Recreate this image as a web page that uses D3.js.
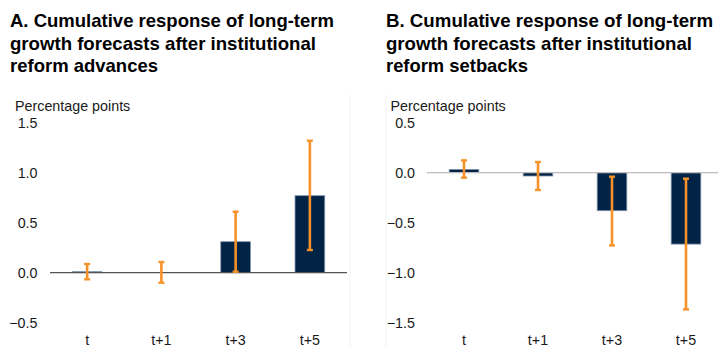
<!DOCTYPE html>
<html>
<head>
<meta charset="utf-8">
<script src="https://cdn.jsdelivr.net/npm/d3@7"></script>
<style>
  html, body { margin: 0; padding: 0; background: #fff; }
  svg { display: block; }
  .title { font-family: "Liberation Sans Narrow", "Arial Narrow", "Liberation Sans", sans-serif; font-weight: bold; font-size: 18.5px; fill: #000; }
  .lbl { font-family: "Liberation Sans", Arial, sans-serif; font-size: 14.3px; fill: #1a1a1a; }
</style>
</head>
<body>
<svg id="chart" width="718" height="347"></svg>
<script>
// Horizons after the reform event
const horizons = ["t", "t+1", "t+3", "t+5"];

// Panel A: reform advances — point estimate and confidence band
const advancesValue = [0.01, 0.0, 0.31, 0.77];
const advancesLow   = [-0.066, -0.10, 0.01, 0.227];
const advancesHigh  = [0.087, 0.107, 0.61, 1.32];

// Panel B: reform setbacks
const setbacksValue = [0.033, -0.033, -0.38, -0.714];
const setbacksLow   = [-0.05, -0.173, -0.727, -1.367];
const setbacksHigh  = [0.123, 0.107, -0.04, -0.06];

const ticksA = [1.5, 1.0, 0.5, 0.0, -0.5];
const ticksB = [0.5, 0.0, -0.5, -1.0, -1.5];

const titleA = ["A. Cumulative response of long-term", "growth forecasts after institutional", "reform advances"];
const titleB = ["B. Cumulative response of long-term", "growth forecasts after institutional", "reform setbacks"];
const unitLabel = "Percentage points";

const svg = d3.select("#chart");

function panel(cfg) {
  const g = svg.append("g");

  // faint panel frame edge
  g.append("line")
    .attr("x1", cfg.edgeX).attr("x2", cfg.edgeX)
    .attr("y1", 95).attr("y2", 347)
    .attr("stroke", "#f2f2f2").attr("stroke-width", 1);

  // title lines
  cfg.title.forEach((t, i) => {
    g.append("text").attr("class", "title")
      .attr("x", cfg.titleX).attr("y", 27.3 + i * 22.2)
      .attr("textLength", cfg.titleW[i])
      .attr("lengthAdjust", "spacingAndGlyphs")
      .text(t);
  });

  g.append("text").attr("class", "lbl")
    .attr("x", cfg.unitX).attr("y", 110.5)
    .text(unitLabel);

  const x = d3.scaleBand().domain(horizons).range(cfg.xRange).paddingInner(0.6).paddingOuter(0.3);
  const y = d3.scaleLinear().domain(cfg.yDomain).range([122.7, 322.7]);

  // y tick labels
  const yAxis = d3.axisLeft(y).tickValues(cfg.ticks).tickFormat(d3.format(".1f")).tickSize(0).tickPadding(0);
  const ya = g.append("g").attr("transform", `translate(${cfg.tickRight},0)`).call(yAxis);
  ya.select(".domain").remove();
  ya.selectAll("text").attr("class", "lbl").attr("font-size", null).attr("font-family", null).attr("fill", null).attr("dy", "0.35em");

  // x category labels
  const xAxis = d3.axisBottom(x).tickSize(0).tickPadding(0);
  const xa = g.append("g").attr("transform", "translate(0,345)").call(xAxis);
  xa.select(".domain").remove();
  xa.selectAll("text").attr("class", "lbl").attr("font-size", null).attr("font-family", null).attr("fill", null).attr("y", 0).attr("dy", null);

  const rows = horizons.map((h, i) => ({ h, v: cfg.value[i], lo: cfg.low[i], hi: cfg.high[i] }));

  // bars
  g.selectAll("rect.bar").data(rows).join("rect")
    .attr("class", "bar")
    .attr("x", d => x(d.h))
    .attr("width", x.bandwidth())
    .attr("y", d => y(Math.max(0, d.v)))
    .attr("height", d => Math.abs(y(d.v) - y(0)))
    .attr("fill", "#002346")
    .attr("stroke", "#7f93ab").attr("stroke-width", 0.8);

  // zero line
  g.append("line")
    .attr("x1", cfg.zeroX[0]).attr("x2", cfg.zeroX[1])
    .attr("y1", y(0)).attr("y2", y(0))
    .attr("stroke", cfg.zeroColor).attr("stroke-width", 1.2);

  // error bars
  const eb = g.selectAll("g.err").data(rows).join("g").attr("class", "err");
  const cx = d => x(d.h) + x.bandwidth() / 2;
  eb.append("line")
    .attr("x1", cx).attr("x2", cx)
    .attr("y1", d => y(d.hi)).attr("y2", d => y(d.lo))
    .attr("stroke", "#f7922a").attr("stroke-width", 2.6);
  [d => d.hi, d => d.lo].forEach(acc => {
    eb.append("line")
      .attr("x1", d => cx(d) - 3).attr("x2", d => cx(d) + 3)
      .attr("y1", d => y(acc(d))).attr("y2", d => y(acc(d)))
      .attr("stroke", "#f7922a").attr("stroke-width", 2.4);
  });
}

panel({
  title: titleA, titleX: 10, titleW: [324, 306, 148],
  unitX: 15, tickRight: 37.5,
  xRange: [50, 347], yDomain: [1.5, -0.5], ticks: ticksA,
  zeroX: [50, 347], zeroColor: "#555555",
  value: advancesValue, low: advancesLow, high: advancesHigh,
  edgeX: 350
});

panel({
  title: titleB, titleX: 386, titleW: [327, 306, 142],
  unitX: 390.5, tickRight: 415,
  xRange: [427, 723], yDomain: [0.5, -1.5], ticks: ticksB,
  zeroX: [427, 718], zeroColor: "#bdbdbd",
  value: setbacksValue, low: setbacksLow, high: setbacksHigh,
  edgeX: 386
});
</script>
</body>
</html>
